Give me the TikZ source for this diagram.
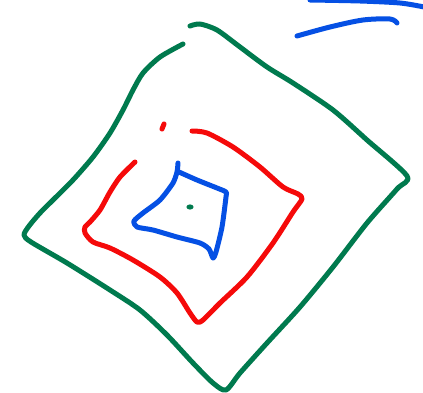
\documentclass[tikz,border=0pt]{standalone}
\usepackage{xcolor}
\definecolor{penGreen}{RGB}{0,122,78}
\definecolor{penRed}{RGB}{245,10,10}
\definecolor{penBlue}{RGB}{5,80,228}

\begin{document}
\begin{tikzpicture}[
  x=1pt, y=-1pt,
  pen/.style={line width=5pt, line cap=round, line join=round},
  greenpen/.style={pen, draw=penGreen},
  redpen/.style={pen, draw=penRed},
  bluepen/.style={pen, draw=penBlue}
]
  \useasboundingbox (0,0) rectangle (423,393);
  \clip (0,0) rectangle (423,393);

  % outer square
  \draw[greenpen] plot[smooth, tension=0.45] coordinates {
    (183,44) (160,57) (143,73) (133,90) (123,110) (110,133) (93,157)
    (73,180) (53,200) (40,213) (29,226) (24,235) (31,242) (67,263)
    (110,290) (140,310) (167,335) (193,363) (213,383) (226,390)
    (240,373) (267,343) (300,307) (333,267) (367,223) (397,189)
    (407,176) (367,140) (333,110) (293,83) (267,67) (240,47)
    (217,30) (200,24) (190,26)};

  % middle square
  \draw[redpen] (164,124) -- (162,129);
  \draw[redpen] plot[smooth, tension=0.45] coordinates {
    (192,131) (207,133) (233,147) (260,167) (283,187) (298,194)
    (302,199) (293,212) (273,243) (247,277) (220,303) (203,320)
    (197,322) (190,313) (177,293) (160,277) (133,260) (110,248)
    (93,242) (85,233) (85,227) (90,222) (100,210) (110,192)
    (120,177) (135,162)};

  % inner square
  \draw[bluepen] plot[smooth, tension=0.4] coordinates {
    (178,163) (177,172) (173,183) (160,200) (143,213) (134,221)
    (137,227) (153,230) (177,237) (200,243) (209,249) (213,258)
    (216,252) (222,227) (226,197) (226,192) (217,188) (197,180)
    (179,172)};
  \fill[penGreen] (190,207) ellipse (3.6 and 2.6);

  % strokes top right
  \draw[bluepen] plot[smooth, tension=0.5] coordinates {
    (310,0) (360,1) (400,3) (424,7)};
  \draw[bluepen] plot[smooth, tension=0.5] coordinates {
    (297,36) (330,27) (363,20) (390,19) (397,23)};
\end{tikzpicture}
\end{document}
